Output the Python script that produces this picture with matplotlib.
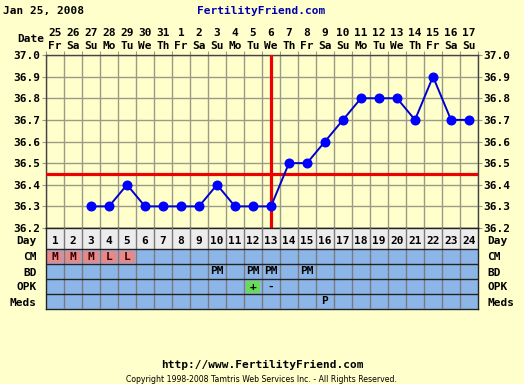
import matplotlib
matplotlib.use("Agg")
import matplotlib.pyplot as plt
from matplotlib.patches import Rectangle
from matplotlib.transforms import blended_transform_factory
import numpy as np

# ---------------- data ----------------
dates = ["25", "26", "27", "28", "29", "30", "31", "1", "2", "3", "4", "5",
         "6", "7", "8", "9", "10", "11", "12", "13", "14", "15", "16", "17"]
weekdays = ["Fr", "Sa", "Su", "Mo", "Tu", "We", "Th", "Fr", "Sa", "Su", "Mo", "Tu",
            "We", "Th", "Fr", "Sa", "Su", "Mo", "Tu", "We", "Th", "Fr", "Sa", "Su"]
cycle_days = list(range(1, 25))
temp_days = list(range(3, 25))
temps = [36.3, 36.3, 36.4, 36.3, 36.3, 36.3, 36.3, 36.4, 36.3, 36.3, 36.3,
         36.5, 36.5, 36.6, 36.7, 36.8, 36.8, 36.8, 36.7, 36.9, 36.7, 36.7]
coverline = 36.45
ovulation_day = 13
y_ticks = [36.2, 36.3, 36.4, 36.5, 36.6, 36.7, 36.8, 36.9, 37.0]

row_labels = ["Day", "CM", "BD", "OPK", "Meds"]
cm_days = [1, 2, 3, 4, 5]
cm_marks = ["M", "M", "M", "L", "L"]
bd_days = [10, 12, 13, 15]
bd_marks = ["PM", "PM", "PM", "PM"]
opk_days = [12, 13]
opk_marks = ["+", "-"]
meds_days = [16]
meds_marks = ["P"]

title_date = "Jan 25, 2008"
site = "FertilityFriend.com"
url = "http://www.FertilityFriend.com"
copyright_txt = "Copyright 1998-2008 Tamtris Web Services Inc. - All Rights Reserved."

# ---------------- style ----------------
W, H = 524, 384
BG = "#FFFFCC"
GRID = "#9a9a88"
BLUE_ROW = "#8DB6E8"
PINK = "#E88888"
GREEN = "#66DD55"
DAYROW = "#ECECEC"
RED = "#EE0000"
MONO = "DejaVu Sans Mono"
FS = 8

fig = plt.figure(figsize=(W / 100, H / 100), dpi=100, facecolor=BG)


def fx(px):
    return px / W


def fy(py):
    return 1 - py / H


L, R = 46, 478
T_TOP, T_BOT = 55, 228
TAB_BOT = 309

# ---------------- temperature chart ----------------
ax = fig.add_axes([fx(L), fy(T_BOT), fx(R - L), (T_BOT - T_TOP) / H])
ax.set_facecolor(BG)
ax.set_xlim(0.5, 24.5)
ax.set_ylim(36.2, 37.0)
ax.set_xticks(np.arange(0.5, 25, 1))
ax.set_yticks(y_ticks)
ax.set_yticklabels([f"{v:.1f}" for v in y_ticks])
ax.tick_params(axis="x", top=True, bottom=False, labelbottom=False,
               length=3, direction="out", color=GRID)
ax.tick_params(axis="y", left=True, right=True, labelleft=True, labelright=True,
               length=3, direction="out", color=GRID, pad=1)
for lab in ax.get_yticklabels():
    lab.set_fontfamily(MONO)
    lab.set_fontweight("bold")
    lab.set_fontsize(FS)
ax.grid(True, color=GRID, linewidth=1)
ax.set_axisbelow(True)
for s in ax.spines.values():
    s.set_color("#444444")
    s.set_linewidth(1)

ax.axhline(coverline, color=RED, linewidth=2.3, zorder=3)
ax.axvline(ovulation_day, color=RED, linewidth=2.3, zorder=3)
ax.plot(temp_days, temps, color="#0000CC", linewidth=1.4, marker="o",
        markersize=6.2, markerfacecolor="#0000FF", markeredgecolor="#0000FF",
        zorder=4, clip_on=False)

# date header
trans = blended_transform_factory(ax.transData, fig.transFigure)
for d, ds, wd in zip(cycle_days, dates, weekdays):
    ax.text(d, fy(33), ds, transform=trans, ha="center", va="center",
            fontfamily=MONO, fontweight="bold", fontsize=FS)
    ax.text(d, fy(46), wd, transform=trans, ha="center", va="center",
            fontfamily=MONO, fontweight="bold", fontsize=FS)
fig.text(fx(44), fy(39), "Date", ha="right", va="center",
         fontfamily=MONO, fontweight="bold", fontsize=FS)

# ---------------- observation table ----------------
row_h = [21, 15, 15, 15, 15]
edges = np.concatenate([[0], np.cumsum(row_h)])
centers = (edges[:-1] + edges[1:]) / 2
label_pos = centers.copy()
label_pos[0] = centers[0] + 2
ax2 = fig.add_axes([fx(L), fy(TAB_BOT), fx(R - L), (TAB_BOT - T_BOT) / H])
ax2.set_xlim(0.5, 24.5)
ax2.set_ylim(edges[-1], 0)
ax2.set_facecolor(BLUE_ROW)
ax2.barh(centers[0], 24, height=row_h[0], left=0.5, color=DAYROW, zorder=1)
ax2.barh(centers[1:], [24] * 4, height=row_h[1:], left=0.5, color=BLUE_ROW, zorder=1)

# pink CM cells
for d in cm_days:
    ax2.add_patch(Rectangle((d - 0.42, edges[1] + 1.5), 0.84, row_h[1] - 3,
                            facecolor=PINK, edgecolor="none", zorder=2))
# green OPK positive
for d, m in zip(opk_days, opk_marks):
    if m == "+":
        ax2.add_patch(Rectangle((d - 0.4, edges[3] + 1.5), 0.8, row_h[3] - 3,
                                facecolor=GREEN, edgecolor="none", zorder=2))

for x in np.arange(1.5, 24.5, 1):
    ax2.axvline(x, color="#7a7a7a", linewidth=1, zorder=3)
for y in edges[1:-1]:
    ax2.axhline(y, color="#222222", linewidth=1, zorder=3)

txt_kw = dict(ha="center", va="center", fontfamily=MONO, fontweight="bold",
              fontsize=FS, zorder=5)
for d in cycle_days:
    ax2.text(d, label_pos[0], str(d), **txt_kw)
for d, m in zip(cm_days, cm_marks):
    ax2.text(d, centers[1], m, color="#330000", **txt_kw)
for d, m in zip(bd_days, bd_marks):
    ax2.text(d, centers[2], m, **txt_kw)
for d, m in zip(opk_days, opk_marks):
    ax2.text(d, centers[3], m, **txt_kw)
for d, m in zip(meds_days, meds_marks):
    ax2.text(d, centers[4], m, **txt_kw)

ax2.set_xticks([])
ax2.set_yticks(label_pos)
ax2.set_yticklabels(row_labels)
ax2.tick_params(axis="y", left=False, right=False, labelleft=True,
                labelright=True, pad=3)
for lab in ax2.get_yticklabels():
    lab.set_fontfamily(MONO)
    lab.set_fontweight("bold")
    lab.set_fontsize(FS)
for s in ax2.spines.values():
    s.set_color("#222222")
    s.set_linewidth(1)

# ---------------- header / footer ----------------
fig.text(fx(3), fy(11), title_date, ha="left", va="center",
         fontfamily=MONO, fontweight="bold", fontsize=FS)
fig.text(fx(261), fy(11), site, ha="center", va="center", color="#0000AA",
         fontfamily=MONO, fontweight="bold", fontsize=FS)
fig.text(fx(262), fy(365), url, ha="center", va="center",
         fontfamily=MONO, fontweight="bold", fontsize=FS)
fig.text(fx(261), fy(379), copyright_txt, ha="center", va="center",
         fontfamily="DejaVu Sans", fontsize=5.6)

fig.savefig("out.png", dpi=100, facecolor=BG)
